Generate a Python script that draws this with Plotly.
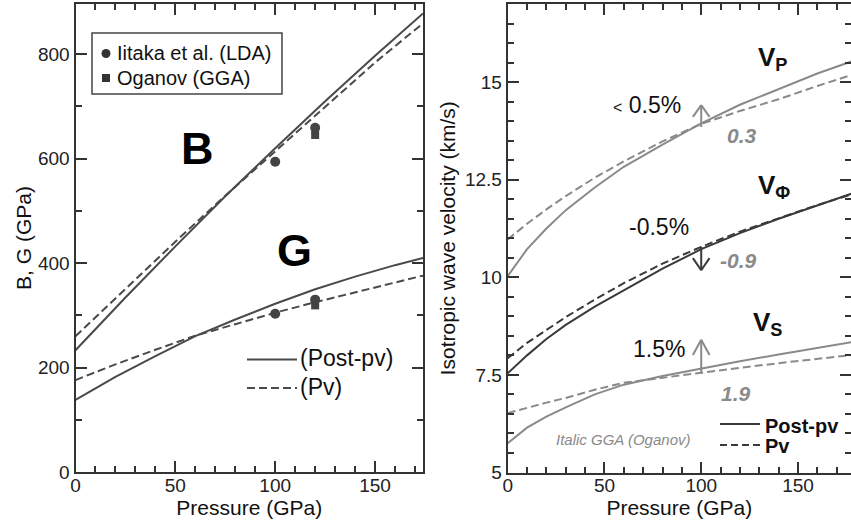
import plotly.graph_objects as go

W, H = 851, 525

# ---------------- data ----------------
# Left panel: moduli (GPa) vs pressure (GPa)
P_mod = [0, 25, 50, 75, 100, 125, 150, 174]
B_postpv = [233, 334, 432, 528, 620, 710, 797, 878]
B_pv = [260, 351, 441, 529, 614, 698, 784, 859]
P_g = [0, 20, 40, 60, 80, 100, 120, 140, 160, 174]
G_postpv = [138, 182, 222, 260, 292, 322, 350, 374, 396, 410]
G_pv = [176, 206, 234, 261, 283, 305, 325, 344, 362, 376]

iitaka_P = [100, 120, 100, 120]
iitaka_val = [594, 659, 303, 330]
oganov_P = [120, 120]
oganov_val = [645, 319]

# Right panel: isotropic wave velocities (km/s)
P_v = [0, 10, 20, 30, 45, 60, 80, 100, 120, 140, 160, 180]
VP_postpv = [10.03, 10.72, 11.25, 11.72, 12.30, 12.83, 13.40, 13.94, 14.42, 14.83, 15.22, 15.57]
VP_pv = [10.97, 11.37, 11.74, 12.08, 12.55, 12.97, 13.48, 13.93, 14.26, 14.56, 14.90, 15.22]
VPhi_postpv = [7.54, 8.00, 8.42, 8.78, 9.25, 9.66, 10.22, 10.72, 11.13, 11.50, 11.85, 12.18]
VPhi_pv = [7.93, 8.32, 8.65, 8.98, 9.43, 9.85, 10.35, 10.78, 11.17, 11.52, 11.85, 12.16]
VS_postpv = [5.75, 6.15, 6.43, 6.67, 7.00, 7.25, 7.47, 7.66, 7.85, 8.02, 8.19, 8.36]
VS_pv = [6.52, 6.66, 6.79, 6.91, 7.12, 7.30, 7.43, 7.55, 7.68, 7.80, 7.91, 8.02]

# contrast arrows at P = 100 GPa: (base, tip, wing level)
arrow_P = 100
arrow_VP = (13.85, 14.41, 14.11)
arrow_VPhi = (10.78, 10.18, 10.49)
arrow_VS = (7.53, 8.40, 8.01)
arrow_wing = 4.3

x_ticks = [0, 50, 100, 150]
left_y_ticks = [0, 200, 400, 600, 800]
right_y_ticks = [5, 7.5, 10, 12.5, 15]
right_y_labels = ["5", "7.5", "10", "12.5", "15"]

# ---------------- styling ----------------
FONT = "Arial, Liberation Sans, Helvetica, sans-serif"
DARK = "#4a4a4a"
LIGHT = "#8a8a8a"
VDARK = "#3a3a3a"
AX = "#333333"
DASH = "8px,4px"


def px(x):
    return x / W


def py(y):
    return 1 - y / H


fig = go.Figure()

# left panel curves
fig.add_trace(go.Scatter(x=P_mod, y=B_postpv, mode="lines", line=dict(color=DARK, width=2),
                         xaxis="x", yaxis="y", showlegend=False))
fig.add_trace(go.Scatter(x=P_mod, y=B_pv, mode="lines", line=dict(color=DARK, width=2, dash=DASH),
                         xaxis="x", yaxis="y", showlegend=False))
fig.add_trace(go.Scatter(x=P_g, y=G_postpv, mode="lines", line=dict(color=DARK, width=2),
                         xaxis="x", yaxis="y", showlegend=False))
fig.add_trace(go.Scatter(x=P_g, y=G_pv, mode="lines", line=dict(color=DARK, width=2, dash=DASH),
                         xaxis="x", yaxis="y", showlegend=False))
fig.add_trace(go.Scatter(x=oganov_P, y=oganov_val, mode="markers",
                         marker=dict(symbol="square", size=8, color="#444444"),
                         xaxis="x", yaxis="y", showlegend=False))
fig.add_trace(go.Scatter(x=iitaka_P, y=iitaka_val, mode="markers",
                         marker=dict(symbol="circle", size=10, color="#444444"),
                         xaxis="x", yaxis="y", showlegend=False))

# right panel curves
for yv, col, dash in [(VP_postpv, LIGHT, None), (VP_pv, LIGHT, DASH),
                      (VPhi_postpv, VDARK, None), (VPhi_pv, VDARK, DASH),
                      (VS_postpv, LIGHT, None), (VS_pv, LIGHT, DASH)]:
    ln = dict(color=col, width=2)
    if dash:
        ln["dash"] = dash
    fig.add_trace(go.Scatter(x=P_v, y=yv, mode="lines", line=ln,
                             xaxis="x2", yaxis="y2", showlegend=False))

axis_common = dict(
    showline=True, linecolor=AX, linewidth=2, mirror="ticks",
    ticks="inside", ticklen=11, tickwidth=1.5, tickcolor=AX,
    showgrid=False, zeroline=False, automargin=False,
    tickfont=dict(family=FONT, size=19, color="#222222"),
)

xt = dict(axis_common, tickmode="array", tickvals=x_ticks, ticktext=[str(v) for v in x_ticks],
          ticklabelstandoff=-5,
          minor=dict(ticks="inside", ticklen=6, tickwidth=1.5, tickcolor=AX, dtick=10, tick0=0, showgrid=False))

TITLE_FONT = dict(family=FONT, size=21, color="#111111")

fig.update_layout(
    width=W, height=H,
    margin=dict(l=0, r=0, t=0, b=0, autoexpand=False),
    paper_bgcolor="white", plot_bgcolor="white",
    showlegend=False,
    font=dict(family=FONT, color="#111111"),
    xaxis=dict(xt, domain=[px(75.5), px(423)], range=[0, 174], anchor="y",
               title=dict(text="Pressure (GPa)", font=TITLE_FONT, standoff=0)),
    yaxis=dict(axis_common, domain=[py(472), py(4)], range=[0, 896], anchor="x",
               tickmode="array", tickvals=left_y_ticks, ticktext=[str(v) for v in left_y_ticks],
               minor=dict(ticks="inside", ticklen=6, tickwidth=1.5, tickcolor=AX, dtick=100, tick0=0, showgrid=False),
               title=dict(text="B, G (GPa)", font=TITLE_FONT, standoff=1)),
    xaxis2=dict(xt, domain=[px(507.7), 1.0], range=[0, 177.4], anchor="y2",
                title=dict(text="Pressure (GPa)", font=TITLE_FONT, standoff=0)),
    yaxis2=dict(axis_common, domain=[py(472.5), py(4)], range=[5, 17], anchor="x2",
                tickmode="array", tickvals=right_y_ticks, ticktext=right_y_labels,
                minor=dict(ticks="inside", ticklen=6, tickwidth=1.5, tickcolor=AX, dtick=0.5, tick0=5, showgrid=False),
                title=dict(text="Isotropic wave velocity (km/s)", font=TITLE_FONT, standoff=4)),
)

shapes = []
ann = []

# ---- left panel legend (markers) ----
shapes.append(dict(type="rect", xref="paper", yref="paper", x0=px(92), x1=px(282), y0=py(94), y1=py(33),
                   line=dict(color="#444444", width=1.5), fillcolor="white"))
shapes.append(dict(type="circle", xref="paper", yref="paper", x0=px(101.5), x1=px(110.5), y0=py(58), y1=py(49),
                   line=dict(color="#333333", width=0), fillcolor="#333333"))
shapes.append(dict(type="rect", xref="paper", yref="paper", x0=px(102), x1=px(110), y0=py(82), y1=py(74),
                   line=dict(color="#333333", width=0), fillcolor="#333333"))
ann.append(dict(text="Iitaka et al. (LDA)", x=px(115), y=py(53), xanchor="left", yanchor="middle",
                font=dict(size=20, family=FONT, color="#111111")))
ann.append(dict(text="Oganov (GGA)", x=px(115), y=py(78), xanchor="left", yanchor="middle",
                font=dict(size=20, family=FONT, color="#111111")))

# ---- left panel legend (lines) ----
shapes.append(dict(type="line", xref="paper", yref="paper", x0=px(247), x1=px(297), y0=py(359.5), y1=py(359.5),
                   line=dict(color=DARK, width=2)))
shapes.append(dict(type="line", xref="paper", yref="paper", x0=px(247), x1=px(297), y0=py(388), y1=py(388),
                   line=dict(color=DARK, width=2, dash=DASH)))
ann.append(dict(text="(Post-pv)", x=px(298), y=py(358), xanchor="left", yanchor="middle",
                font=dict(size=23, family=FONT, color="#111111")))
ann.append(dict(text="(Pv)", x=px(298), y=py(387), xanchor="left", yanchor="middle",
                font=dict(size=23, family=FONT, color="#111111")))

# big letters
ann.append(dict(text="<b>B</b>", x=px(197), y=py(149), xanchor="center", yanchor="middle",
                font=dict(size=45, family=FONT, color="#000000")))
ann.append(dict(text="<b>G</b>", x=px(294), y=py(250), xanchor="center", yanchor="middle",
                font=dict(size=45, family=FONT, color="#000000")))

# ---- right panel labels ----
ann.append(dict(text="<b>V<sub>P</sub></b>", x=px(756), y=py(59), xanchor="left", yanchor="middle",
                font=dict(size=26, family=FONT, color="#111111")))
ann.append(dict(text="<b>V<sub>Φ</sub></b>", x=px(756), y=py(186), xanchor="left", yanchor="middle",
                font=dict(size=26, family=FONT, color="#111111")))
ann.append(dict(text="<b>V<sub>S</sub></b>", x=px(751), y=py(323), xanchor="left", yanchor="middle",
                font=dict(size=26, family=FONT, color="#111111")))

ann.append(dict(text="<span style='font-size:16px'>&lt;</span> 0.5%", x=px(611), y=py(105), xanchor="left",
                yanchor="middle", font=dict(size=23, family=FONT, color="#111111")))
ann.append(dict(text="-0.5%", x=px(627), y=py(227), xanchor="left", yanchor="middle",
                font=dict(size=23, family=FONT, color="#111111")))
ann.append(dict(text="1.5%", x=px(631), y=py(349), xanchor="left", yanchor="middle",
                font=dict(size=23, family=FONT, color="#111111")))

for t, cx, cy in [("0.3", 742, 136), ("-0.9", 738, 260), ("1.9", 736, 393)]:
    ann.append(dict(text="<b><i>" + t + "</i></b>", x=px(cx), y=py(cy), xanchor="center", yanchor="middle",
                    font=dict(size=21, family=FONT, color=LIGHT)))
ann.append(dict(text="<i>Italic GGA (Oganov)</i>", x=px(623.5), y=py(439.5), xanchor="center", yanchor="middle",
                font=dict(size=15, family=FONT, color=LIGHT)))

# right legend
shapes.append(dict(type="line", xref="paper", yref="paper", x0=px(720), x1=px(760), y0=py(424), y1=py(424),
                   line=dict(color=VDARK, width=2)))
shapes.append(dict(type="line", xref="paper", yref="paper", x0=px(720), x1=px(760), y0=py(445), y1=py(445),
                   line=dict(color=VDARK, width=2, dash="7px,4px")))
ann.append(dict(text="<b>Post-pv</b>", x=px(763), y=py(426), xanchor="left", yanchor="middle",
                font=dict(size=20, family=FONT, color="#111111")))
ann.append(dict(text="<b>Pv</b>", x=px(763), y=py(446), xanchor="left", yanchor="middle",
                font=dict(size=20, family=FONT, color="#111111")))

# arrows (open heads) in data coords of right panel
for (base, tip, wing), col in [(arrow_VP, LIGHT), (arrow_VPhi, VDARK), (arrow_VS, LIGHT)]:
    shapes.append(dict(type="line", xref="x2", yref="y2", x0=arrow_P, x1=arrow_P, y0=base, y1=tip,
                       line=dict(color=col, width=2)))
    shapes.append(dict(type="line", xref="x2", yref="y2", x0=arrow_P - arrow_wing, x1=arrow_P, y0=wing, y1=tip,
                       line=dict(color=col, width=2)))
    shapes.append(dict(type="line", xref="x2", yref="y2", x0=arrow_P + arrow_wing, x1=arrow_P, y0=wing, y1=tip,
                       line=dict(color=col, width=2)))

for a in ann:
    a.setdefault("xref", "paper")
    a.setdefault("yref", "paper")
    a.setdefault("showarrow", False)

fig.update_layout(shapes=shapes, annotations=ann)
fig.write_html(
    "out.html",
    config={"displayModeBar": False},
    post_script="document.body.style.margin='0';document.body.style.padding='0';"
                "document.body.style.overflow='hidden';",
)
